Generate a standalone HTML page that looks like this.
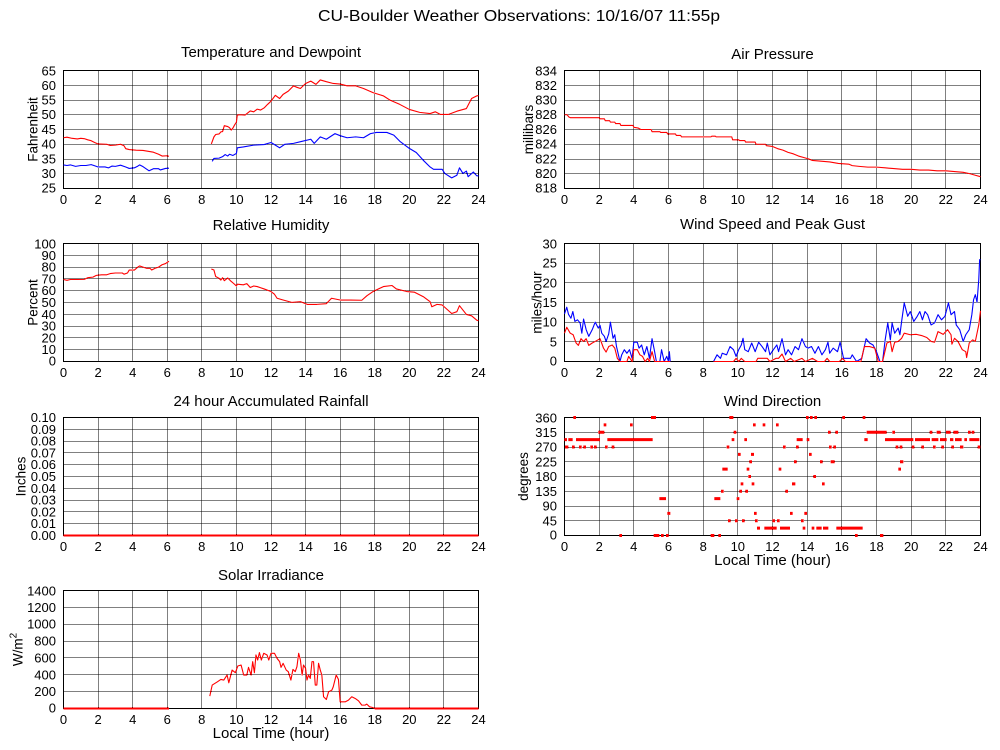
<!DOCTYPE html>
<html><head><meta charset="utf-8"><style>
html,body{margin:0;padding:0;background:#fff;}
svg{display:block;}
text{font-family:"Liberation Sans",Arial,Helvetica,sans-serif;fill:#000;}
.g{stroke:#000;stroke-width:1;stroke-dasharray:1 1;fill:none;shape-rendering:crispEdges;}
.f{stroke:#000;stroke-width:1;fill:none;shape-rendering:crispEdges;}
.d{fill:none;stroke-width:1.1;stroke-linejoin:round;}
.r{stroke:#f00;} .b{stroke:#00f;}
.tk{font-size:13px;}
.ttl{font-size:15px;text-anchor:middle;}
.ax{font-size:13.5px;text-anchor:middle;}
</style></head><body>
<svg width="1000" height="750" viewBox="0 0 1000 750" xmlns="http://www.w3.org/2000/svg">
<rect x="0" y="0" width="1000" height="750" fill="#fff"/>
<defs>
<path id="vl" d="M98.5 0V118M132.5 0V118M167.5 0V118M201.5 0V118M236.5 0V118M271.5 0V118M305.5 0V118M340.5 0V118M374.5 0V118M409.5 0V118M443.5 0V118"/>
<path id="vr" d="M599.5 0V118M633.5 0V118M668.5 0V118M703.5 0V118M737.5 0V118M772.5 0V118M807.5 0V118M841.5 0V118M876.5 0V118M911.5 0V118M945.5 0V118"/>
</defs>

<!-- Titles -->
<text x="519" y="21" font-size="16" text-anchor="middle" textLength="402" lengthAdjust="spacingAndGlyphs">CU-Boulder Weather Observations: 10/16/07 11:55p</text>
<text class="ttl" x="271" y="57">Temperature and Dewpoint</text>
<text class="ttl" x="772.5" y="59">Air Pressure</text>
<text class="ttl" x="271" y="230">Relative Humidity</text>
<text class="ttl" x="772.5" y="229">Wind Speed and Peak Gust</text>
<text class="ttl" x="271" y="406">24 hour Accumulated Rainfall</text>
<text class="ttl" x="772.5" y="406">Wind Direction</text>
<text class="ttl" x="271" y="580">Solar Irradiance</text>
<text class="ttl" x="271" y="738">Local Time (hour)</text>
<text class="ttl" x="772.5" y="565">Local Time (hour)</text>

<!-- Axis titles -->
<text class="ax" transform="translate(37.5,129.5) rotate(-90)">Fahrenheit</text>
<text class="ax" transform="translate(37.5,302.5) rotate(-90)">Percent</text>
<text class="ax" transform="translate(25.5,476.5) rotate(-90)">Inches</text>
<text class="ax" transform="translate(22.5,649.5) rotate(-90)">W/m<tspan font-size="10" dy="-6">2</tspan></text>
<text class="ax" transform="translate(533,129.5) rotate(-90)">millibars</text>
<text class="ax" transform="translate(541.5,302.5) rotate(-90)">miles/hour</text>
<text class="ax" transform="translate(528,476.5) rotate(-90)">degrees</text>

<!-- Grids -->
<use href="#vl" class="g" y="70.5"/>
<use href="#vl" class="g" y="243.5"/>
<use href="#vl" class="g" y="417.5"/>
<use href="#vl" class="g" y="590.5"/>
<use href="#vr" class="g" y="70.5"/>
<use href="#vr" class="g" y="243.5"/>
<use href="#vr" class="g" y="417.5"/>
<path class="g" d="M63.5 85.5H478.5M63.5 100.5H478.5M63.5 114.5H478.5M63.5 129.5H478.5M63.5 144.5H478.5M63.5 159.5H478.5M63.5 173.5H478.5"/>
<path class="g" d="M564.5 85.5H980.5M564.5 100.5H980.5M564.5 114.5H980.5M564.5 129.5H980.5M564.5 144.5H980.5M564.5 159.5H980.5M564.5 173.5H980.5"/>
<path class="g" d="M63.5 255.5H478.5M63.5 267.5H478.5M63.5 278.5H478.5M63.5 290.5H478.5M63.5 302.5H478.5M63.5 314.5H478.5M63.5 326.5H478.5M63.5 337.5H478.5M63.5 349.5H478.5"/>
<path class="g" d="M564.5 263.5H980.5M564.5 282.5H980.5M564.5 302.5H980.5M564.5 322.5H980.5M564.5 341.5H980.5"/>
<path class="g" d="M63.5 429.5H478.5M63.5 441.5H478.5M63.5 452.5H478.5M63.5 464.5H478.5M63.5 476.5H478.5M63.5 488.5H478.5M63.5 500.5H478.5M63.5 511.5H478.5M63.5 523.5H478.5"/>
<path class="g" d="M564.5 432.5H980.5M564.5 447.5H980.5M564.5 461.5H980.5M564.5 476.5H980.5M564.5 491.5H980.5M564.5 506.5H980.5M564.5 520.5H980.5"/>
<path class="g" d="M63.5 607.5H478.5M63.5 624.5H478.5M63.5 641.5H478.5M63.5 657.5H478.5M63.5 674.5H478.5M63.5 691.5H478.5"/>

<!-- Frames -->
<rect class="f" x="63.5" y="70.5" width="415" height="118"/>
<rect class="f" x="564.5" y="70.5" width="416" height="118"/>
<rect class="f" x="63.5" y="243.5" width="415" height="118"/>
<rect class="f" x="564.5" y="243.5" width="416" height="118"/>
<rect class="f" x="63.5" y="417.5" width="415" height="118"/>
<rect class="f" x="564.5" y="417.5" width="416" height="118"/>
<rect class="f" x="63.5" y="590.5" width="415" height="118"/>

<!-- Y tick labels -->
<g class="tk" text-anchor="end">
<text x="56" y="75.5">65</text><text x="56" y="90">60</text><text x="56" y="104.5">55</text><text x="56" y="119">50</text><text x="56" y="134">45</text><text x="56" y="148.5">40</text><text x="56" y="163.5">35</text><text x="56" y="178">30</text><text x="56" y="192.5">25</text>
<text x="557" y="75.5">834</text><text x="557" y="90">832</text><text x="557" y="104.5">830</text><text x="557" y="119">828</text><text x="557" y="134">826</text><text x="557" y="148.5">824</text><text x="557" y="163.5">822</text><text x="557" y="178">820</text><text x="557" y="192.5">818</text>
<text x="56" y="248.5">100</text><text x="56" y="259.8">90</text><text x="56" y="271.6">80</text><text x="56" y="283.4">70</text><text x="56" y="295.2">60</text><text x="56" y="307">50</text><text x="56" y="318.8">40</text><text x="56" y="330.6">30</text><text x="56" y="342.4">20</text><text x="56" y="354.2">10</text><text x="56" y="365.5">0</text>
<text x="557" y="248.5">30</text><text x="557" y="267.7">25</text><text x="557" y="287.3">20</text><text x="557" y="307">15</text><text x="557" y="326.7">10</text><text x="557" y="346.3">5</text><text x="557" y="365.5">0</text>
<text x="56" y="422">0.10</text><text x="56" y="433.8">0.09</text><text x="56" y="445.6">0.08</text><text x="56" y="457.4">0.07</text><text x="56" y="469.2">0.06</text><text x="56" y="481">0.05</text><text x="56" y="492.8">0.04</text><text x="56" y="504.6">0.03</text><text x="56" y="516.4">0.02</text><text x="56" y="528.2">0.01</text><text x="56" y="540">0.00</text>
<text x="557" y="422.5">360</text><text x="557" y="436.75">315</text><text x="557" y="451.5">270</text><text x="557" y="466.25">225</text><text x="557" y="481">180</text><text x="557" y="495.75">135</text><text x="557" y="510.5">90</text><text x="557" y="525.25">45</text><text x="557" y="539.5">0</text>
<text x="56" y="595.5">1400</text><text x="56" y="611.9">1200</text><text x="56" y="628.7">1000</text><text x="56" y="645.6">800</text><text x="56" y="662.4">600</text><text x="56" y="679.3">400</text><text x="56" y="696.1">200</text><text x="56" y="712.5">0</text>
</g>

<!-- X tick labels -->
<g class="tk" text-anchor="middle">
<text x="63.5" y="204">0</text><text x="98.1" y="204">2</text><text x="132.7" y="204">4</text><text x="167.25" y="204">6</text><text x="201.8" y="204">8</text><text x="236.4" y="204">10</text><text x="271" y="204">12</text><text x="305.6" y="204">14</text><text x="340.2" y="204">16</text><text x="374.75" y="204">18</text><text x="409.3" y="204">20</text><text x="443.9" y="204">22</text><text x="478.5" y="204">24</text>
<text x="63.5" y="377">0</text><text x="98.1" y="377">2</text><text x="132.7" y="377">4</text><text x="167.25" y="377">6</text><text x="201.8" y="377">8</text><text x="236.4" y="377">10</text><text x="271" y="377">12</text><text x="305.6" y="377">14</text><text x="340.2" y="377">16</text><text x="374.75" y="377">18</text><text x="409.3" y="377">20</text><text x="443.9" y="377">22</text><text x="478.5" y="377">24</text>
<text x="63.5" y="551">0</text><text x="98.1" y="551">2</text><text x="132.7" y="551">4</text><text x="167.25" y="551">6</text><text x="201.8" y="551">8</text><text x="236.4" y="551">10</text><text x="271" y="551">12</text><text x="305.6" y="551">14</text><text x="340.2" y="551">16</text><text x="374.75" y="551">18</text><text x="409.3" y="551">20</text><text x="443.9" y="551">22</text><text x="478.5" y="551">24</text>
<text x="63.5" y="724">0</text><text x="98.1" y="724">2</text><text x="132.7" y="724">4</text><text x="167.25" y="724">6</text><text x="201.8" y="724">8</text><text x="236.4" y="724">10</text><text x="271" y="724">12</text><text x="305.6" y="724">14</text><text x="340.2" y="724">16</text><text x="374.75" y="724">18</text><text x="409.3" y="724">20</text><text x="443.9" y="724">22</text><text x="478.5" y="724">24</text>
<text x="564.5" y="204">0</text><text x="599.2" y="204">2</text><text x="633.8" y="204">4</text><text x="668.5" y="204">6</text><text x="703.2" y="204">8</text><text x="737.8" y="204">10</text><text x="772.5" y="204">12</text><text x="807.2" y="204">14</text><text x="841.8" y="204">16</text><text x="876.5" y="204">18</text><text x="911.2" y="204">20</text><text x="945.8" y="204">22</text><text x="980.5" y="204">24</text>
<text x="564.5" y="377">0</text><text x="599.2" y="377">2</text><text x="633.8" y="377">4</text><text x="668.5" y="377">6</text><text x="703.2" y="377">8</text><text x="737.8" y="377">10</text><text x="772.5" y="377">12</text><text x="807.2" y="377">14</text><text x="841.8" y="377">16</text><text x="876.5" y="377">18</text><text x="911.2" y="377">20</text><text x="945.8" y="377">22</text><text x="980.5" y="377">24</text>
<text x="564.5" y="551">0</text><text x="599.2" y="551">2</text><text x="633.8" y="551">4</text><text x="668.5" y="551">6</text><text x="703.2" y="551">8</text><text x="737.8" y="551">10</text><text x="772.5" y="551">12</text><text x="807.2" y="551">14</text><text x="841.8" y="551">16</text><text x="876.5" y="551">18</text><text x="911.2" y="551">20</text><text x="945.8" y="551">22</text><text x="980.5" y="551">24</text>
</g>

<!-- Temperature / Dewpoint -->
<g transform="translate(63.5,188.5) scale(17.2917,-2.95) translate(0,-25)">
<polyline class="d r" vector-effect="non-scaling-stroke" points="0,42.2 0.2,42.4 0.5,42.0 0.8,41.8 1.0,42.0 1.2,41.9 1.4,41.5 1.6,41.2 1.8,40.6 2.0,40.1 2.5,40.0 2.7,39.6 3.0,39.7 3.3,40.0 3.5,39.5 3.6,38.5 3.8,38.2 4.2,38.0 4.6,37.9 4.9,37.6 5.2,37.3 5.5,36.6 5.7,36.0 6.0,36.1 6.1,35.9"/>
<polyline class="d r" vector-effect="non-scaling-stroke" points="8.55,40.1 8.7,42.5 8.8,43.3 9.0,43.5 9.1,44.2 9.2,44.3 9.3,46.3 9.5,46.0 9.6,45.6 9.7,44.8 9.8,45.5 9.9,46.6 10.0,47.5 10.05,49.9 10.2,50.0 10.5,49.9 10.8,51.3 11.0,51.0 11.2,51.9 11.4,51.6 11.6,52.3 11.8,53.5 12.0,54.6 12.25,56.6 12.5,55.5 12.7,56.9 13.0,58 13.3,59.8 13.5,59.3 13.7,58.9 14.0,60.6 14.3,61.4 14.6,60.3 14.85,61.8 15.2,61.2 15.6,60.6 16.0,60.4 16.4,59.8 16.9,59.8 17.35,58.9 17.9,57.5 18.5,56.4 18.9,54.9 19.45,53.5 20.0,51.8 20.6,50.8 21.2,50.4 21.5,51 21.8,50.1 22.25,50.1 22.75,51.2 23.3,52.1 23.6,55.5 23.9,56.4 24,56.5"/>
<polyline class="d b" vector-effect="non-scaling-stroke" points="0,33 0.2,32.8 0.4,33 0.7,32.5 1.0,32.8 1.3,32.8 1.6,33.1 1.8,32.7 2.0,32.3 2.4,32.3 2.6,32 2.8,32.6 3.0,32.5 3.3,32.9 3.6,32.3 3.8,31.8 4.1,32 4.3,32.6 4.4,33 4.6,32.4 4.8,31.6 4.95,31 5.2,31.7 5.5,31.7 5.6,31.3 5.9,31.8 6.1,31.9"/>
<polyline class="d b" vector-effect="non-scaling-stroke" points="8.6,34.2 8.7,35.2 9.0,35.3 9.2,35.8 9.35,36.5 9.5,36 9.6,36.6 9.8,36.2 10.0,36.9 10.05,38.8 10.4,39.1 11.0,39.7 11.6,39.9 12.0,40.6 12.25,39.7 12.5,38.8 12.8,40 13.3,40.3 13.8,41.0 14.3,41.7 14.5,40.3 14.85,42.5 15.2,41.7 15.7,43.6 16.0,42.9 16.4,42.2 16.9,42.5 17.35,42.2 17.75,43.6 18.1,44 18.7,44 19.1,43.1 19.45,41.0 20.0,38.6 20.4,37.2 20.8,34.6 21.2,32.3 21.4,31.5 21.9,31.5 22.05,30.1 22.45,28.6 22.75,29.5 22.9,32 23.1,30.1 23.3,30.9 23.4,29 23.7,30.6 23.9,29.3 24,29.3"/>
</g>

<!-- Relative Humidity -->
<g transform="translate(63.5,361.5) scale(17.2917,-1.18)">
<polyline class="d r" vector-effect="non-scaling-stroke" points="0,69.5 0.2,68.8 0.4,69.5 0.8,69.5 1.2,69.6 1.4,71 1.7,71.5 1.9,73 2.2,73.5 2.5,73.5 2.7,74.5 3.0,75 3.4,75 3.5,74 3.7,75 3.8,77.5 4.1,77.5 4.3,80 4.4,81 4.6,80 4.8,79 5.0,79 5.1,77.5 5.3,79 5.5,80 5.7,82 5.9,83 6.0,84 6.1,85"/>
<polyline class="d r" vector-effect="non-scaling-stroke" points="8.55,78.4 8.7,77.5 8.8,72 9.0,70.5 9.1,69 9.2,71 9.3,68.5 9.5,70.8 9.65,68.5 9.85,66 10.0,64 10.05,65.5 10.4,65 10.6,66 10.8,62.7 11.0,64 11.2,63.5 11.4,62.5 11.6,61.5 12.0,59.3 12.2,57 12.35,53.6 12.7,52.1 13.2,50.1 13.7,50.7 14.1,48.4 14.65,48.4 15.2,49 15.5,53.6 16.0,52.1 16.6,52.1 17.25,51.9 17.55,55.8 17.9,59.3 18.5,63.5 19.0,64.4 19.25,61.5 19.85,59.3 20.3,58.7 20.8,55 21.2,50.7 21.3,46.4 21.6,48.4 21.9,47.9 22.45,40.7 22.75,42.2 22.9,47.3 23.1,43.6 23.3,39.9 23.6,38.7 23.9,35 24,34.5"/>
</g>

<!-- Rainfall -->
<path d="M63.5 535.5H478.5" stroke="#f00" stroke-width="2"/>

<!-- Solar -->
<path d="M63.5 708.5H169M374.7 708.5H478.5" stroke="#f00" stroke-width="2"/>
<g transform="translate(63.5,708.5) scale(17.2917,-0.084286)">
<polyline class="d r" vector-effect="non-scaling-stroke" points="8.46,147 8.6,278 8.9,317 9.1,345 9.27,337 9.46,397 9.56,305 9.75,456 9.94,425 10.08,504 10.27,516 10.42,397 10.6,397 10.7,488 10.85,397 10.94,556 11.04,425 11.13,635 11.23,575 11.33,663 11.44,575 11.58,655 11.77,635 11.87,575 12.0,655 12.2,655 12.35,595 12.5,556 12.58,488 12.7,536 12.88,456 13.0,437 13.15,337 13.27,464 13.4,437 13.5,496 13.6,655 13.7,575 13.8,397 13.88,516 14.0,476 14.08,337 14.17,397 14.27,357 14.37,556 14.46,556 14.56,278 14.65,278 14.75,536 14.85,456 14.94,397 15.04,139 15.2,107 15.33,198 15.52,218 15.6,258 15.77,397 15.9,345 16.0,79 16.29,79 16.48,99 16.67,139 16.87,119 17.06,91 17.25,40 17.44,40 17.54,52 17.7,20 17.88,12 18.0,0"/>
</g>

<!-- Air Pressure -->
<g transform="translate(564.5,188.5) scale(17.3333,-7.375) translate(0,-818)">
<polyline class="d r" vector-effect="non-scaling-stroke" points="0,828 0.15,828 0.25,827.7 0.35,827.6 2.0,827.6 2.05,827.45 2.3,827.45 2.35,827.2 2.6,827.2 2.65,827.0 2.9,827.0 2.95,826.8 3.2,826.8 3.25,826.55 3.95,826.55 4.0,826.3 4.25,826.2 4.4,826.0 5.0,826.0 5.05,825.7 5.5,825.7 5.55,825.6 5.9,825.6 5.95,825.4 6.4,825.4 6.45,825.2 6.7,825.2 6.75,825.0 8.45,825.0 8.5,825.1 8.7,825.1 8.75,825.0 9.65,825.0 9.7,824.6 10.05,824.6 10.1,824.5 10.4,824.5 10.45,824.3 11.0,824.3 11.05,824.0 11.6,824.0 11.65,823.8 12.0,823.7 12.3,823.4 12.6,823.2 12.9,822.9 13.2,822.7 13.5,822.4 13.8,822.2 14.1,822.0 14.3,821.8 14.8,821.7 15.3,821.6 15.8,821.4 16.4,821.3 16.6,821.1 17.0,821.0 17.5,820.9 18.0,820.9 18.5,820.8 19.0,820.7 19.5,820.6 20.0,820.6 20.5,820.5 21.0,820.5 21.5,820.4 22.0,820.4 22.5,820.3 23.0,820.2 23.4,820.0 23.7,819.8 24.0,819.6"/>
</g>

<!-- Wind Speed -->
<g transform="translate(564.5,361.5) scale(17.3333,-3.9333)">
<polyline class="d b" vector-effect="non-scaling-stroke" points="0,12.1 0.13,13.8 0.23,12 0.37,11 0.48,12.7 0.6,10.2 0.75,10.6 0.9,9.8 1.0,7.2 1.1,10.8 1.25,8.1 1.4,6.4 1.6,8.1 1.77,10 1.95,8.5 2.05,9.2 2.15,7.2 2.3,6.4 2.4,5.1 2.55,7 2.65,10 2.8,5.9 2.9,6.8 3.0,3.8 3.2,0 3.3,1.7 3.45,3 3.6,2.1 3.75,3 3.9,0.8 4.0,4.9 4.2,4.9 4.3,3.4 4.45,4.2 4.6,1.7 4.75,3.8 4.9,0.8 5.05,5.8 5.2,2.5 5.3,0 5.5,0 5.6,3 5.75,0 5.9,1.3 6.0,0 6.05,2.5 6.1,0"/>
<polyline class="d b" vector-effect="non-scaling-stroke" points="8.6,0 8.8,1.7 9.0,0.8 9.1,2.1 9.35,1.7 9.55,3.8 9.75,3 9.9,1.3 10.05,3 10.2,4.2 10.3,5.9 10.4,3 10.6,2.5 10.8,4.7 11.0,2.5 11.2,4.9 11.4,3.8 11.6,2.5 11.7,4.7 11.85,1.7 12.05,3 12.25,4.2 12.35,2.5 12.55,5.8 12.75,1.7 12.9,3 13.1,1.7 13.3,3.8 13.5,3 13.7,5.8 13.9,3.8 14.05,3.4 14.25,3.8 14.45,2.1 14.65,3.8 14.85,1.7 15.05,3 15.2,4.9 15.3,2.1 15.5,3.4 15.75,2.5 15.9,4.9 16.1,0.8 16.5,0.8 16.6,1.7 16.85,0 17.15,0.8 17.4,5.8 17.6,4.7 17.8,4.2 18.0,2.5 18.2,0 18.35,0 18.5,5.5 18.65,9.8 18.8,5.5 18.9,9.8 19.05,7.2 19.25,8.5 19.35,6.8 19.45,10.2 19.6,14.9 19.8,11.5 19.95,12.7 20.15,10.2 20.35,11.5 20.5,12.7 20.65,10.6 20.8,12.7 20.95,11.9 21.15,9.3 21.35,9.8 21.55,11.9 21.75,10.6 21.95,11.5 22.15,14.9 22.3,11.9 22.5,12.7 22.6,9.3 22.8,8.1 23.0,5.1 23.15,6.8 23.35,8.1 23.5,11.9 23.6,15.7 23.7,17 23.8,15.1 23.9,20.8 23.95,25.9 24.0,25.9"/>
<polyline class="d r" vector-effect="non-scaling-stroke" points="0,7.2 0.13,8.7 0.33,7.2 0.5,6.8 0.67,4.7 0.8,4.1 0.95,5.8 1.1,5.1 1.25,5.8 1.4,4.1 1.6,4.7 1.77,5.1 2.05,5.8 2.25,3.4 2.4,2.4 2.55,3.8 2.75,4.2 2.9,3.4 3.05,0.8 3.2,0 3.6,0 3.7,1.3 3.9,0 4.0,3 4.2,3 4.35,1.7 4.5,1.3 4.65,0 4.8,0.8 4.9,0 5.05,2.5 5.2,0 6.1,0"/>
<polyline class="d r" vector-effect="non-scaling-stroke" points="8.6,0 9.75,0 9.9,0.8 10.05,0 10.2,0.8 10.4,0 11.05,0 11.15,0.8 11.7,0.8 11.85,0 12.2,0.8 12.35,0.8 12.55,1.9 12.75,0 13.05,0.8 13.25,0 13.7,0.8 13.9,0 14.3,0.8 14.6,0 15.0,0 15.15,0.8 15.3,0 15.85,0 16.05,0.8 16.2,0 17.1,0 17.3,3.8 17.6,3.8 17.9,3.4 18.1,0 18.35,0 18.6,4.7 18.8,5.1 18.9,2.5 19.05,4.9 19.25,5.1 19.45,5.9 19.6,7.2 19.95,6.8 20.3,6.9 20.6,6.6 20.9,6.1 21.15,5.1 21.35,4.9 21.55,7.6 21.85,6.9 22.1,8.1 22.3,6.8 22.35,4.4 22.5,5.9 22.7,5.1 22.95,3 23.15,2.5 23.2,1 23.35,4.7 23.55,5.5 23.7,5.1 23.8,7.2 23.9,9.3 24,12.9"/>
</g>

<!-- Wind Direction -->
<g transform="translate(500,0) scale(0.333333,1)" fill="#f00">
<path d="M193 438.1H201V441.1H193ZM205 438.1H218V441.1H205ZM228 438.1H300V441.1H228ZM322 438.1H458V441.1H322ZM695 438.1H703V441.1H695ZM733 438.1H741V441.1H733ZM890 438.1H908V441.1H890ZM920 438.1H928V441.1H920ZM1093 438.1H1103V441.1H1093ZM1155 438.1H1240V441.1H1155ZM1245 438.1H1290V441.1H1245ZM1295 438.1H1315V441.1H1295ZM1320 438.1H1340V441.1H1320ZM1350 438.1H1360V441.1H1350ZM1365 438.1H1385V441.1H1365ZM1393 438.1H1401V441.1H1393ZM1408 438.1H1438V441.1H1408Z"/>
<path d="M195 445.5H205V448.5H195ZM216 445.5H224V448.5H216ZM237 445.5H245V448.5H237ZM250 445.5H258V448.5H250ZM271 445.5H279V448.5H271ZM282 445.5H290V448.5H282ZM315 445.5H323V448.5H315ZM335 445.5H343V448.5H335ZM680 445.5H688V448.5H680ZM849 445.5H857V448.5H849ZM888 445.5H896V448.5H888ZM987 445.5H995V448.5H987ZM1000 445.5H1008V448.5H1000ZM1187 445.5H1195V448.5H1187ZM1199 445.5H1207V448.5H1199ZM1235 445.5H1243V448.5H1235ZM1264 445.5H1272V448.5H1264ZM1299 445.5H1307V448.5H1299ZM1324 445.5H1332V448.5H1324ZM1354 445.5H1362V448.5H1354ZM1380 445.5H1390V448.5H1380ZM1433 445.5H1441V448.5H1433Z"/>
<path d="M295 430.75H313V433.75H295ZM701 430.75H709V433.75H701ZM984 430.75H992V433.75H984ZM1006 430.75H1014V433.75H1006ZM1100 430.75H1160V433.75H1100ZM1177 430.75H1185V433.75H1177ZM1289 430.75H1297V433.75H1289ZM1310 430.75H1322V433.75H1310ZM1338 430.75H1352V433.75H1338ZM1360 430.75H1375V433.75H1360ZM1404 430.75H1412V433.75H1404ZM1415 430.75H1423V433.75H1415Z"/>
<path d="M220 416H228V419H220ZM453 416H468V419H453ZM688 416H700V419H688ZM918 416H926V419H918ZM930 416H938V419H930ZM943 416H951V419H943ZM1027 416H1035V419H1027ZM1088 416H1096V419H1088Z"/>
<path d="M311 423.4H319V426.4H311ZM390 423.4H398V426.4H390ZM759 423.4H767V426.4H759ZM788 423.4H796V426.4H788ZM828 423.4H836V426.4H828Z"/>
<path d="M714 452.9H722V455.9H714ZM753 452.9H762V455.9H753ZM927 452.9H935V455.9H927Z"/>
<path d="M748 460.25H756V463.25H748ZM882 460.25H890V463.25H882ZM960 460.25H968V463.25H960ZM992 460.25H1004V463.25H992ZM1200 460.25H1210V463.25H1200Z"/>
<path d="M667 467.6H683V470.6H667ZM740 467.6H748V470.6H740ZM836 467.6H844V470.6H836ZM1195 467.6H1203V470.6H1195Z"/>
<path d="M745 475H753V478H745ZM940 475H948V478H940Z"/>
<path d="M722 482.4H730V485.4H722ZM755 482.4H763V485.4H755ZM876 482.4H886V485.4H876ZM966 482.4H974V485.4H966Z"/>
<path d="M663 489.75H671V492.75H663ZM718 489.75H726V492.75H718ZM736 489.75H744V492.75H736ZM856 489.75H864V492.75H856Z"/>
<path d="M478 497.1H498V500.1H478ZM643 497.1H661V500.1H643ZM710 497.1H718V500.1H710Z"/>
<path d="M502 511.9H511V514.9H502ZM762 511.9H770V514.9H762ZM870 511.9H878V514.9H870ZM913 511.9H921V514.9H913Z"/>
<path d="M684 519.25H692V522.25H684ZM705 519.25H713V522.25H705ZM726 519.25H734V522.25H726ZM765 519.25H773V522.25H765ZM817 519.25H825V522.25H817ZM831 519.25H839V522.25H831ZM903 519.25H911V522.25H903Z"/>
<path d="M771 526.6H780V529.6H771ZM793 526.6H830V529.6H793ZM840 526.6H870V529.6H840ZM908 526.6H916V529.6H908ZM935 526.6H943V529.6H935ZM949 526.6H965V529.6H949ZM969 526.6H985V529.6H969ZM1009 526.6H1088V529.6H1009Z"/>
<path d="M358 534H366V537H358ZM461 534H478V537H461ZM483 534H491V537H483ZM498 534H506V537H498ZM632 534H643V537H632ZM655 534H663V537H655ZM1065 534H1073V537H1065ZM1140 534H1150V537H1140Z"/>
</g>
</svg>
</body></html>
